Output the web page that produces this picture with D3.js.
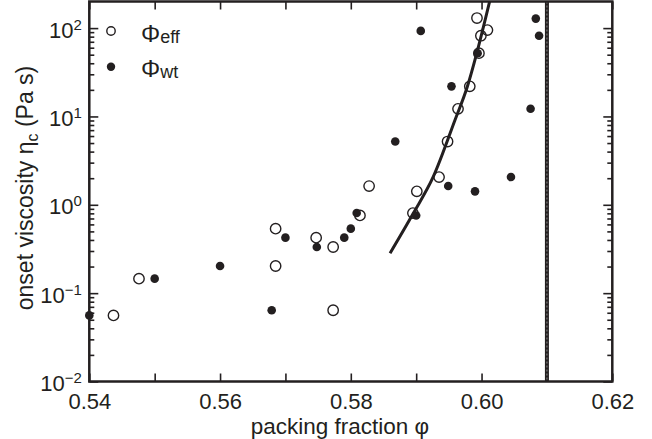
<!DOCTYPE html>
<html>
<head>
<meta charset="utf-8">
<script src="https://cdn.jsdelivr.net/npm/d3@7"></script>
<style>
  html, body { margin: 0; padding: 0; background: #fff; }
  svg { display: block; font-family: "Liberation Sans", Arial, Helvetica, sans-serif; }
</style>
</head>
<body>
<svg id="chart" width="652" height="439"></svg>
<script>
// Onset viscosity versus packing fraction, two definitions of the packing fraction
const phiEff = [0.5437, 0.5476, 0.5685, 0.5685, 0.5773, 0.5747, 0.5773, 0.5814, 0.5828,
                0.5895, 0.5901, 0.5935, 0.5948, 0.5964, 0.5982, 0.5996, 0.5999, 0.6009, 0.5993];
const etaEff = [0.056, 0.146, 0.537, 0.203, 0.064, 0.425, 0.333, 0.758, 1.63,
                0.806, 1.42, 2.06, 5.2, 12.2, 21.9, 52, 82, 95, 130];

const phiWt = [0.540, 0.550, 0.560, 0.5679, 0.5700, 0.5748, 0.5790, 0.5800, 0.5809, 0.5868,
               0.5900, 0.5907, 0.5949, 0.5954, 0.5990, 0.5994, 0.6045, 0.6075, 0.6083, 0.6088];
const etaWt = [0.056, 0.146, 0.203, 0.064, 0.425, 0.333, 0.425, 0.537, 0.806, 5.2,
               0.758, 93, 1.63, 21.9, 1.42, 52, 2.06, 12.2, 128, 82];

// Fitted divergence curve (sampled points)
const fitPhi = [0.58600, 0.58956, 0.59262, 0.59594, 0.59782, 0.59926, 0.60129];
const fitEta = [0.2825, 0.801, 2.08, 9.12, 21.7, 51.9, 208];

// Random close packing marker
const jammingPhi = [0.61];

const xTickValues = [0.54, 0.55, 0.56, 0.57, 0.58, 0.59, 0.60, 0.61, 0.62];
const xTickLabels = ["0.54", "", "0.56", "", "0.58", "", "0.60", "", "0.62"];
const yDecades = [0.01, 0.1, 1, 10, 100];
const yDecadeExp = ["\u22122", "\u22121", "0", "1", "2"];

const ink = "#231f20";
const svg = d3.select("#chart");
svg.append("rect").attr("width", 652).attr("height", 439).attr("fill", "#fff");

const x0 = 89.3, x1 = 612.3, y0 = 381.5, y1 = 1.5;
const x = d3.scaleLinear().domain([0.54, 0.62]).range([x0, x1]);
const y = d3.scaleLog().domain([0.01, 200]).range([y0, y1]);

const minorY = [];
yDecades.forEach(d => { for (let k = 2; k <= 9; k++) { const v = k * d; if (v < 200) minorY.push(v); } });

function styleAxis(g) {
  g.select(".domain").remove();
  g.selectAll(".tick line").attr("stroke", ink).attr("stroke-width", 1.6);
  g.attr("font-family", null).attr("font-size", 22);
  g.selectAll(".tick text").attr("fill", ink);
}

// bottom axis with labels
const gx = svg.append("g").attr("transform", `translate(0,${y0})`)
  .call(d3.axisBottom(x).tickValues(xTickValues).tickSize(-8).tickSizeOuter(0)
    .tickFormat((d, i) => xTickLabels[i]));
styleAxis(gx);
gx.selectAll(".tick text").attr("y", 27.5).attr("dy", 0);

// top axis, ticks only
const gxt = svg.append("g").attr("transform", `translate(0,${y1})`)
  .call(d3.axisTop(x).tickValues(xTickValues).tickSize(-8).tickSizeOuter(0).tickFormat(""));
styleAxis(gxt);

// left axis: decades with superscript exponents, plus minor ticks
const gy = svg.append("g").attr("transform", `translate(${x0},0)`)
  .call(d3.axisLeft(y).tickValues(yDecades).tickSize(-9).tickPadding(7.5).tickSizeOuter(0));
styleAxis(gy);
gy.selectAll(".tick text").each(function(d, i) {
  const t = d3.select(this);
  t.text(null).attr("dy", 9);
  t.append("tspan").text("10");
  t.append("tspan").attr("dy", -8).attr("font-size", 15).text(yDecadeExp[i]);
});
const gym = svg.append("g").attr("transform", `translate(${x0},0)`)
  .call(d3.axisLeft(y).tickValues(minorY).tickSize(-5).tickSizeOuter(0).tickFormat(""));
styleAxis(gym);

// right axis, ticks only
const gyr = svg.append("g").attr("transform", `translate(${x1},0)`)
  .call(d3.axisRight(y).tickValues(yDecades).tickSize(-9).tickSizeOuter(0).tickFormat(""));
styleAxis(gyr);
const gyrm = svg.append("g").attr("transform", `translate(${x1},0)`)
  .call(d3.axisRight(y).tickValues(minorY).tickSize(-5).tickSizeOuter(0).tickFormat(""));
styleAxis(gyrm);

// clip for lines inside the frame
svg.append("clipPath").attr("id", "plotClip").append("rect")
  .attr("x", x0).attr("y", y1).attr("width", x1 - x0).attr("height", y0 - y1);
const plot = svg.append("g").attr("clip-path", "url(#plotClip)");

// vertical line at random close packing
jammingPhi.forEach(p => {
  plot.append("line").attr("x1", x(p)).attr("x2", x(p)).attr("y1", y1).attr("y2", y0)
    .attr("stroke", ink).attr("stroke-width", 4);
  plot.append("line").attr("x1", x(p)).attr("x2", x(p)).attr("y1", y1).attr("y2", y0)
    .attr("stroke", "#8a8a8a").attr("stroke-width", 1).attr("stroke-dasharray", "2,2");
});

// fitted curve
const fitData = fitPhi.map((p, i) => [p, fitEta[i]]);
plot.append("path").datum(fitData)
  .attr("d", d3.line().x(d => x(d[0])).y(d => y(d[1])).curve(d3.curveMonotoneX))
  .attr("fill", "none").attr("stroke", ink).attr("stroke-width", 3);

// frame
svg.append("rect").attr("x", x0).attr("y", y1).attr("width", x1 - x0).attr("height", y0 - y1)
  .attr("fill", "none").attr("stroke", ink).attr("stroke-width", 2.5);

// filled markers (phi_wt)
svg.append("g").selectAll("circle").data(phiWt.map((p, i) => [p, etaWt[i]])).join("circle")
  .attr("cx", d => x(d[0])).attr("cy", d => y(d[1])).attr("r", 4.3).attr("fill", ink);

// open markers (phi_eff)
svg.append("g").selectAll("circle").data(phiEff.map((p, i) => [p, etaEff[i]])).join("circle")
  .attr("cx", d => x(d[0])).attr("cy", d => y(d[1])).attr("r", 5.2)
  .attr("fill", "none").attr("stroke", ink).attr("stroke-width", 1.4);

// legend
const leg = svg.append("g");
leg.append("circle").attr("cx", 111).attr("cy", 31).attr("r", 4.2)
  .attr("fill", "none").attr("stroke", ink).attr("stroke-width", 1.4);
leg.append("circle").attr("cx", 111).attr("cy", 66.7).attr("r", 4.2).attr("fill", ink);
const l1 = leg.append("text").attr("x", 141).attr("y", 41.7).attr("fill", ink).attr("font-size", 24);
l1.append("tspan").text("\u03A6");
l1.append("tspan").attr("dy", 1).attr("font-size", 18).text("eff");
const l2 = leg.append("text").attr("x", 141).attr("y", 77).attr("fill", ink).attr("font-size", 24);
l2.append("tspan").text("\u03A6");
l2.append("tspan").attr("dy", 1).attr("font-size", 18).text("wt");

// axis titles
svg.append("text").attr("x", 340).attr("y", 433.5).attr("text-anchor", "middle")
  .attr("font-size", 22.5).attr("fill", ink).text("packing fraction \u03C6");

const yt = svg.append("text").attr("transform", "translate(33,188) rotate(-90)")
  .attr("text-anchor", "middle").attr("font-size", 23).attr("fill", ink);
yt.append("tspan").text("onset viscosity \u03B7");
yt.append("tspan").attr("dy", 5).attr("font-size", 16).text("c");
yt.append("tspan").attr("dy", -5).text(" (Pa s)");
</script>
</body>
</html>
